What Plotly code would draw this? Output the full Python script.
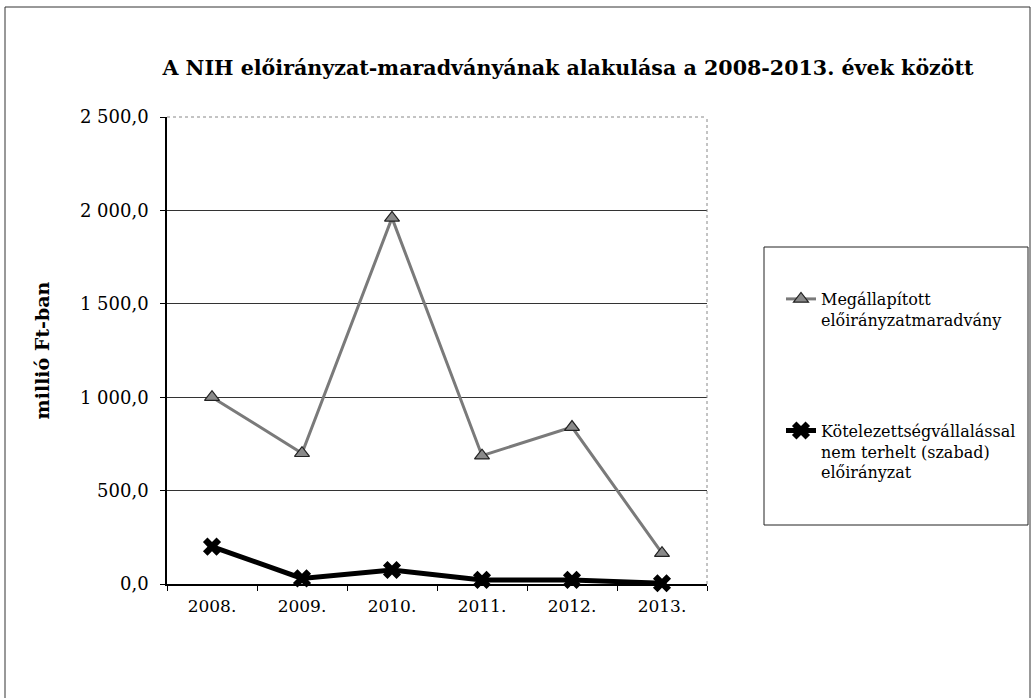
import plotly.graph_objects as go

years = ["2008.", "2009.", "2010.", "2011.", "2012.", "2013."]
megallapitott = [1000.0, 700.0, 1960.0, 687.0, 840.0, 165.0]
szabad = [200.0, 30.0, 75.0, 22.0, 22.0, 4.0]
y_ticks = [0, 500, 1000, 1500, 2000, 2500]
y_ticklabels = ["0,0", "500,0", "1 000,0", "1 500,0", "2 000,0", "2 500,0"]

SERIF = "DejaVu Serif"
W, H = 1035, 698
L, R, T, B = 167, 707, 117, 584

def px(x):
    return (x - L) / (R - L)

def py(y):
    return (B - y) / (B - T)

fig = go.Figure()
fig.add_trace(go.Scatter(
    x=years, y=megallapitott, mode="lines+markers",
    name="Megállapított<br>előirányzatmaradvány",
    line=dict(color="#7a7a7a", width=3),
    marker=dict(symbol="triangle-up", size=13, color="#8a8a8a",
                line=dict(color="#222222", width=1.2)),
    cliponaxis=False, legendgroup="a",
))
fig.add_trace(go.Scatter(
    x=years, y=szabad, mode="lines+markers",
    name="Kötelezettségvállalással<br>nem terhelt (szabad)<br>előirányzat",
    line=dict(color="#000000", width=5),
    marker=dict(symbol="x", size=16, color="#000000"),
    cliponaxis=False, legendgroup="b",
))

shapes = [
    dict(type="rect", xref="paper", yref="paper", x0=px(5), x1=px(1030), y0=py(720), y1=py(7),
         line=dict(color="#333333", width=1), layer="below"),
    dict(type="rect", xref="paper", yref="paper", x0=px(764), x1=px(1028), y0=py(525), y1=py(247),
         line=dict(color="#222222", width=1)),
    dict(type="line", xref="paper", yref="paper", x0=0, x1=1, y0=1, y1=1,
         line=dict(color="#888888", width=1, dash="dot")),
    dict(type="line", xref="paper", yref="paper", x0=1, x1=1, y0=0, y1=1,
         line=dict(color="#888888", width=1, dash="dot")),
]

fig.update_layout(
    width=W, height=H,
    margin=dict(l=L, r=W - R, t=T, b=H - B),
    paper_bgcolor="white", plot_bgcolor="white",
    title=dict(text="<b>A NIH előirányzat-maradványának alakulása a 2008-2013. évek között</b>",
               xref="container", x=568 / W, xanchor="center",
               yref="container", y=1 - 68 / H, yanchor="middle",
               font=dict(family=SERIF, size=20.6, color="#000000")),
    xaxis=dict(type="category", range=[-0.5, 5.5], autorange=False,
               showgrid=False, showline=True, linecolor="#000000", linewidth=1.5,
               ticks="outside", tickson="boundaries", ticklen=5, tickcolor="#000000",
               ticklabelstandoff=6,
               tickfont=dict(family=SERIF, size=17, color="#000000"), zeroline=False),
    yaxis=dict(range=[0, 2500], autorange=False, tickvals=y_ticks, ticktext=y_ticklabels,
               showgrid=True, gridcolor="#333333", gridwidth=1,
               showline=True, linecolor="#000000", linewidth=1.5,
               ticks="outside", ticklen=5, tickcolor="#000000",
               ticklabelstandoff=8,
               tickfont=dict(family=SERIF, size=18, color="#000000"), zeroline=False,
               title=dict(text="<b>millió Ft-ban</b>", font=dict(family=SERIF, size=19, color="#000000"),
                          standoff=25)),
    legend=dict(x=px(781), xanchor="left", y=py(282), yanchor="top",
                bgcolor="rgba(0,0,0,0)", borderwidth=0,
                font=dict(family=SERIF, size=16, color="#000000"),
                valign="top", tracegroupgap=87),
    shapes=shapes,
    showlegend=True,
)

fig.write_html("out.html", config={"displayModeBar": False},
               post_script="document.body.style.margin='0px';")
